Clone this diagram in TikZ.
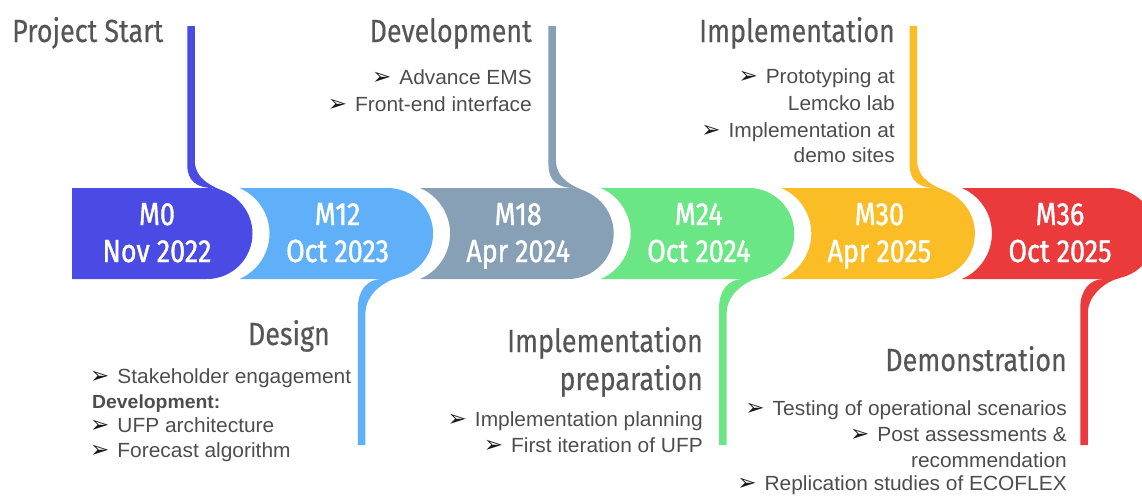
\documentclass[tikz,border=0pt]{standalone}
\usepackage{fontspec}
\setmainfont{Liberation Sans}[FakeStretch=1.02]
\newfontfamily\condfont{Fira Sans}[FakeStretch=0.84,FakeBold=0.4]
\newfontfamily\condboldfont{Fira Sans}[FakeStretch=0.84,FakeBold=1.2]
\newfontfamily\dejavu{DejaVu Sans}
\definecolor{cMa}{HTML}{4A4AE4}
\definecolor{cMb}{HTML}{60B0F9}
\definecolor{cMc}{HTML}{87A0B5}
\definecolor{cMd}{HTML}{6AE684}
\definecolor{cMe}{HTML}{FBBD25}
\definecolor{cMf}{HTML}{EB3A3C}
\definecolor{headgray}{HTML}{555555}
\definecolor{itemgray}{HTML}{4D4D4D}
\newcommand\mybul{{\dejavu\fontsize{23}{23}\selectfont\color{black!90}➢}\hspace{8pt}}
\begin{document}
\begin{tikzpicture}[x=1pt,y=1pt,yscale=-1,
  head/.style={font=\condfont\fontsize{32}{32}\selectfont, text=headgray, inner sep=0pt},
  item/.style={font=\fontsize{20.5}{20.5}\selectfont, text=itemgray, inner sep=0pt},
  itemb/.style={font=\bfseries\fontsize{19}{19}\selectfont, text=itemgray, inner sep=0pt},
  datetxt/.style={font=\condboldfont\fontsize{32}{32}\selectfont, text=white, inner sep=0pt, anchor=base}]
\useasboundingbox (0,0) rectangle (1142,496);
\clip (0,0) rectangle (1142,496);

% segments
\fill[cMa] (72,188) -- (207,188) arc[start angle=-90,end angle=90,radius=45.5] -- (72,279) -- cycle;
\foreach \p/\c/\col in {207/387.6/cMb, 387.6/568.2/cMc, 568.2/748.8/cMd, 748.8/929.4/cMe, 929.4/1110/cMf}{
  \fill[\col] ({\p+32.5},188) -- (\c,188) arc[start angle=-90,end angle=90,radius=45.5]
     -- ({\p+32.5},279) arc[start angle=66.8,end angle=-66.8,radius=49.5] -- cycle;
}

% top connectors
\foreach \c/\col in {207/cMa, 568.2/cMc, 929.4/cMe}{
  \fill[\col] ({\c-19.75},26) -- ({\c-19.75},165) .. controls ({\c-19.75},181) and ({\c-10},188) .. ({\c+6},188)
    -- ({\c+6},200) -- ({\c+18},200) -- ({\c+18},191.7)
    .. controls ({\c+6},186.5) and ({\c-12.25},180) .. ({\c-12.25},160) -- ({\c-12.25},26) -- cycle;
}
% bottom connectors
\foreach \c/\col in {387.6/cMb, 748.8/cMd, 1110/cMf}{
  \fill[\col] ({\c-29.75},445) -- ({\c-29.75},308) .. controls ({\c-29.75},290) and ({\c-20},279) .. ({\c-6},279)
    -- ({\c-6},267) -- ({\c+10},267) -- ({\c+10},277.9)
    .. controls (\c,280.1) and ({\c-22.25},292) .. ({\c-22.25},314) -- ({\c-22.25},445) -- cycle;
}

% date texts
\node[datetxt] (m0a) at (157,225) {M0};
\node[datetxt] (m0b) at (157,262) {Nov 2022};
\node[datetxt] (m12a) at (337.6,225) {M12};
\node[datetxt] (m12b) at (337.6,262) {Oct 2023};
\node[datetxt] (m18a) at (518.2,225) {M18};
\node[datetxt] (m18b) at (518.2,262) {Apr 2024};
\node[datetxt] (m24a) at (698.8,225) {M24};
\node[datetxt] (m24b) at (698.8,262) {Oct 2024};
\node[datetxt] (m30a) at (879.4,225) {M30};
\node[datetxt] (m30b) at (879.4,262) {Apr 2025};
\node[datetxt] (m36a) at (1060,225) {M36};
\node[datetxt] (m36b) at (1060,262) {Oct 2025};

% headings
\node[head, anchor=base west] (hstart) at (12,42) {Project Start};
\node[head, anchor=base east] (hdev) at (532,42) {Development};
\node[head, anchor=base east] (himpl) at (895,42) {Implementation};
\node[head, anchor=base east] (hdesign) at (330,345) {Design};
\node[head, anchor=base east] (hprep1) at (703,352) {Implementation};
\node[head, anchor=base east] (hprep2) at (703,390) {preparation};
\node[head, anchor=base east] (hdemo) at (1067,371) {Demonstration};

% development items
\node[item, anchor=base east] (d1) at (532,84) {\mybul Advance EMS};
\node[item, anchor=base east] (d2) at (532,111) {\mybul Front-end interface};
% implementation items
\node[item, anchor=base east] (i1) at (895,83) {\mybul Prototyping at};
\node[item, anchor=base east] (i2) at (895,110) {Lemcko lab};
\node[item, anchor=base east] (i3) at (895,137) {\mybul Implementation at};
\node[item, anchor=base east] (i4) at (895,162) {demo sites};
% design items
\node[item, anchor=base west] (s1) at (90,383) {\mybul Stakeholder engagement};
\node[itemb, anchor=base west] (s2) at (92,408) {Development:};
\node[item, anchor=base west] (s3) at (90,432) {\mybul UFP architecture};
\node[item, anchor=base west] (s4) at (90,457) {\mybul Forecast algorithm};
% preparation items
\node[item, anchor=base east] (p1) at (703,426) {\mybul Implementation planning};
\node[item, anchor=base east] (p2) at (703,452) {\mybul First iteration of UFP};
% demonstration items
\node[item, anchor=base east] (e1) at (1067,415) {\mybul Testing of operational scenarios};
\node[item, anchor=base east] (e2) at (1067,441) {\mybul Post assessments \&};
\node[item, anchor=base east] (e3) at (1067,467) {recommendation};
\node[item, anchor=base east] (e4) at (1067,490) {\mybul Replication studies of ECOFLEX};
\end{tikzpicture}
\end{document}
